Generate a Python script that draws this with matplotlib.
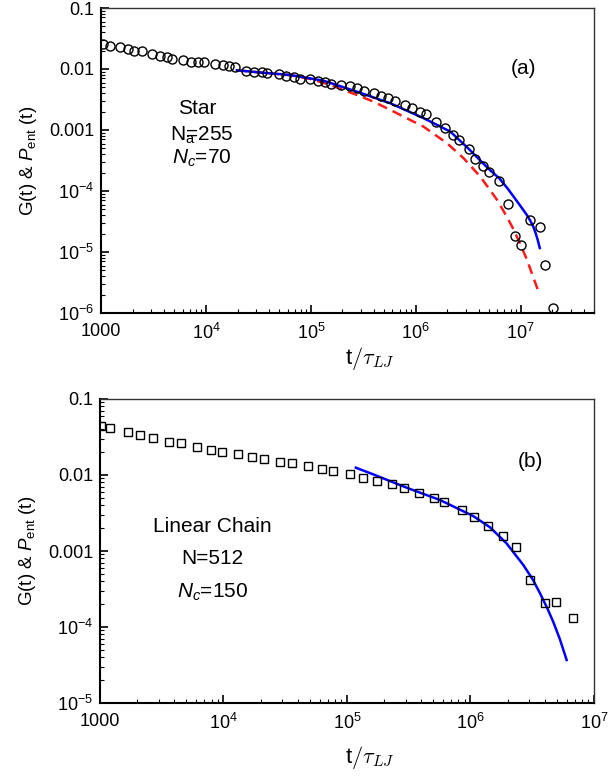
import matplotlib
matplotlib.use("Agg")
import matplotlib.pyplot as plt
from matplotlib.ticker import LogLocator, NullFormatter

plt.rcParams['font.family'] = ['Liberation Sans', 'DejaVu Sans']
plt.rcParams['mathtext.fontset'] = 'custom'
plt.rcParams['mathtext.rm'] = 'Liberation Sans'
plt.rcParams['mathtext.it'] = 'Liberation Sans:italic'
plt.rcParams['mathtext.bf'] = 'Liberation Sans:bold'

# ---------- Panel (a): star polymer ----------
t_a = [1.05e3, 1.22e3, 1.52e3, 1.82e3, 2.08e3, 2.44e3, 3.09e3, 3.66e3, 4.24e3, 4.79e3,
       6.02e3, 7.18e3, 8.48e3, 9.68e3, 1.22e4, 1.44e4, 1.66e4, 1.90e4, 2.40e4, 2.88e4,
       3.46e4, 3.81e4, 4.92e4, 5.78e4, 6.84e4, 7.92e4, 9.87e4, 1.17e5, 1.35e5, 1.57e5,
       1.94e5, 2.34e5, 2.75e5, 3.18e5, 3.97e5, 4.67e5, 5.44e5, 6.29e5, 7.84e5, 9.22e5,
       1.09e6, 1.24e6, 1.56e6, 1.92e6, 2.25e6, 2.57e6, 3.20e6, 3.70e6, 4.35e6, 4.96e6,
       6.28e6, 7.54e6, 8.92e6, 9.96e6, 1.24e7, 1.52e7, 1.72e7, 2.04e7]
G_a = [0.0257, 0.0241, 0.0227, 0.0210, 0.0197, 0.0197, 0.0176, 0.0165, 0.0159, 0.0146,
       0.0139, 0.0132, 0.0129, 0.0129, 0.0121, 0.0116, 0.0112, 0.0107, 0.00938, 0.00903,
       0.00903, 0.00869, 0.00819, 0.00776, 0.00731, 0.00686, 0.00686, 0.00643, 0.00619, 0.00568,
       0.00547, 0.00527, 0.00483, 0.00441, 0.00400, 0.00365, 0.00331, 0.00302, 0.00257, 0.00227,
       0.00200, 0.00183, 0.00137, 0.00107, 8.28e-4, 6.86e-4, 4.89e-4, 3.35e-4, 2.57e-4, 2.03e-4,
       1.46e-4, 6.05e-5, 1.83e-5, 1.30e-5, 3.35e-5, 2.54e-5, 6.12e-6, 1.19e-6]

# P_ent fit (blue, solid)
tfit_a = [1.97e4, 3.29e4, 6.36e4, 1.32e5, 2.75e5, 5.73e5, 1.19e6, 2.14e6, 3.20e6, 4.96e6,
          6.28e6, 7.5e6, 8.6e6, 1.0e7, 1.15e7, 1.24e7, 1.32e7, 1.38e7, 1.45e7, 1.52e7]
Gfit_a = [9.52e-3, 8.77e-3, 7.97e-3, 6.43e-3, 4.25e-3, 2.74e-3, 1.56e-3, 9.38e-4, 4.89e-4, 2.3e-4,
          1.6e-4, 1.1e-4, 8.0e-5, 5.6e-5, 4.0e-5, 3.2e-5, 2.6e-5, 2.1e-5, 1.6e-5, 1.16e-5]

# second curve (red, dashed)
tdash_a = [1.97e4, 3.29e4, 6.36e4, 9.87e4, 1.53e5, 2.75e5, 3.97e5, 5.73e5, 1.19e6, 1.99e6,
           2.86e6, 4.13e6, 5.97e6, 7.3e6, 8.6e6, 1.0e7, 1.15e7, 1.3e7, 1.52e7]
Gdash_a = [9.52e-3, 8.77e-3, 7.9e-3, 6.86e-3, 5.47e-3, 3.75e-3, 2.91e-3, 2.13e-3, 1.13e-3, 6.05e-4,
           3.44e-4, 1.71e-4, 7.1e-5, 3.9e-5, 2.3e-5, 1.3e-5, 7.4e-6, 4.1e-6, 1.97e-6]

# ---------- Panel (b): linear chain ----------
t_b = [1.02e3, 1.20e3, 1.68e3, 2.11e3, 2.70e3, 3.62e3, 4.50e3, 6.07e3, 7.88e3, 9.67e3,
       1.32e4, 1.69e4, 2.14e4, 2.87e4, 3.56e4, 4.86e4, 6.24e4, 7.74e4, 1.06e5, 1.36e5,
       1.74e5, 2.31e5, 2.90e5, 3.85e5, 5.03e5, 6.14e5, 8.49e5, 1.07e6, 1.39e6, 1.85e6,
       2.32e6, 3.05e6, 4.01e6, 4.92e6, 6.79e6]
G_b = [0.0446, 0.0419, 0.0365, 0.0336, 0.0310, 0.0274, 0.0261, 0.0236, 0.0213, 0.0203,
       0.0187, 0.0174, 0.0163, 0.0150, 0.0143, 0.0131, 0.0120, 0.0114, 0.0102, 9.21e-3,
       8.41e-3, 7.55e-3, 6.75e-3, 5.79e-3, 4.98e-3, 4.45e-3, 3.46e-3, 2.82e-3, 2.15e-3, 1.56e-3,
       1.12e-3, 4.15e-4, 2.05e-4, 2.11e-4, 1.33e-4]

tfit_b = [1.18e5, 1.63e5, 3.04e5, 5.66e5, 1.05e6, 1.44e6, 1.96e6, 2.68e6, 3.2e6, 3.66e6,
          4.2e6, 4.68e6, 5.3e6, 6.01e6]
Gfit_b = [0.01248, 0.0102, 6.81e-3, 4.69e-3, 2.89e-3, 2.05e-3, 1.26e-3, 6.54e-4, 4.2e-4, 2.77e-4,
          1.75e-4, 1.17e-4, 6.9e-5, 3.68e-5]

xticks_a = [1e3, 1e4, 1e5, 1e6, 1e7]
xlabels_a = ['1000', '$10^4$', '$10^5$', '$10^6$', '$10^7$']
yticks_a = [1e-6, 1e-5, 1e-4, 1e-3, 1e-2, 1e-1]
ylabels_a = ['$10^{-6}$', '$10^{-5}$', '$10^{-4}$', '0.001', '0.01', '0.1']
xticks_b = [1e3, 1e4, 1e5, 1e6, 1e7]
xlabels_b = ['1000', '$10^4$', '$10^5$', '$10^6$', '$10^7$']
yticks_b = [1e-5, 1e-4, 1e-3, 1e-2, 1e-1]
ylabels_b = ['$10^{-5}$', '$10^{-4}$', '0.001', '0.01', '0.1']

BLUE = '#0000ff'
RED = '#ff1a1a'

fig = plt.figure(figsize=(6.10, 7.77), dpi=100)
ax1 = fig.add_axes([0.1656, 0.5972, 0.8082, 0.3925])
ax2 = fig.add_axes([0.1639, 0.0952, 0.8098, 0.3913])


def style(ax, xt, xl, yt, yl):
    ax.set_xscale('log')
    ax.set_yscale('log')
    ax.set_xticks(xt)
    ax.set_xticklabels(xl)
    ax.set_yticks(yt)
    ax.set_yticklabels(yl)
    ax.xaxis.set_minor_locator(LogLocator(base=10, subs=range(2, 10), numticks=30))
    ax.yaxis.set_minor_locator(LogLocator(base=10, subs=range(2, 10), numticks=30))
    ax.xaxis.set_minor_formatter(NullFormatter())
    ax.yaxis.set_minor_formatter(NullFormatter())
    ax.tick_params(which='major', direction='in', length=6, width=1.2, labelsize=13,
                   top=False, right=False)
    ax.tick_params(axis='x', which='major', pad=7)
    ax.tick_params(axis='y', which='major', pad=5)
    ax.tick_params(which='minor', direction='in', length=3, width=0.8,
                   top=False, right=False)
    for s in ['left', 'bottom']:
        ax.spines[s].set_linewidth(1.5)
    for s in ['top', 'right']:
        ax.spines[s].set_linewidth(1.0)
        ax.spines[s].set_color('#333333')
    ax.set_ylabel(r'G(t) & $P_{\rm ent}$ (t)', fontsize=13.5, labelpad=7)


# Panel (a)
ax1.plot(tdash_a, Gdash_a, color=RED, lw=1.8, dashes=(4, 2.5), zorder=2)
ax1.plot(tfit_a, Gfit_a, color=BLUE, lw=1.8, zorder=3)
ax1.plot(t_a, G_a, ls='none', marker='o', ms=6.5, mfc='none', mec='black', mew=1.0, zorder=4)
ax1.set_xlim(1e3, 5e7)
ax1.set_ylim(1e-6, 0.1)
style(ax1, xticks_a, xlabels_a, yticks_a, ylabels_a)
ax1.text(0.546, -0.148, r't$/\tau_{LJ}$', transform=ax1.transAxes, fontsize=16,
         ha='center', va='center', math_fontfamily='cm')
ax1.text(0.857, 0.80, '(a)', transform=ax1.transAxes, fontsize=15, ha='center', va='center')
ax1.text(0.195, 0.671, 'Star', transform=ax1.transAxes, fontsize=15, ha='center', va='center')
ax1.text(0.205, 0.582, r'$\mathregular{N_a}\!\!\!$=255', transform=ax1.transAxes, fontsize=15,
         ha='center', va='center')
ax1.text(0.205, 0.506, '$N_c$=70', transform=ax1.transAxes, fontsize=15, ha='center', va='center')

# Panel (b)
ax2.plot(tfit_b, Gfit_b, color=BLUE, lw=1.8, zorder=3)
ax2.plot(t_b, G_b, ls='none', marker='s', ms=6, mfc='none', mec='black', mew=1.0, zorder=4)
ax2.set_xlim(1e3, 1e7)
ax2.set_ylim(1e-5, 0.1)
style(ax2, xticks_b, xlabels_b, yticks_b, ylabels_b)
ax2.text(0.546, -0.178, r't$/\tau_{LJ}$', transform=ax2.transAxes, fontsize=16,
         ha='center', va='center', math_fontfamily='cm')
ax2.text(0.872, 0.793, '(b)', transform=ax2.transAxes, fontsize=15, ha='center', va='center')
ax2.text(0.228, 0.582, 'Linear Chain', transform=ax2.transAxes, fontsize=15, ha='center', va='center')
ax2.text(0.228, 0.477, 'N=512', transform=ax2.transAxes, fontsize=15, ha='center', va='center')
ax2.text(0.228, 0.365, '$N_c$=150', transform=ax2.transAxes, fontsize=15, ha='center', va='center')

fig.savefig('out.png', dpi=100)
